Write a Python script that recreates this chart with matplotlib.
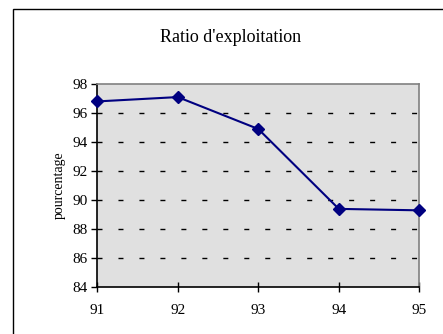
import matplotlib
matplotlib.use("Agg")
import matplotlib.pyplot as plt
from matplotlib.patches import Rectangle

years = ["91", "92", "93", "94", "95"]
ratio = [96.8, 97.1, 94.9, 89.4, 89.3]
y_ticks = [84, 86, 88, 90, 92, 94, 96, 98]

plt.rcParams["font.family"] = ["Liberation Serif", "DejaVu Serif"]

W, H = 443, 334
fig = plt.figure(figsize=(W / 100, H / 100), dpi=100)
fig.patch.set_facecolor("white")

# outer chart frame (open to the right and bottom)
fig.add_artist(Rectangle((12.5 / W, -0.1), 1.2, 1.1 - 9.5 / H,
                         transform=fig.transFigure, fill=False,
                         edgecolor="black", linewidth=1.0))

left, right, top, bottom = 97.3, 419.3, 84, 287.3
ax = fig.add_axes([left / W, 1 - bottom / H, (right - left) / W, (bottom - top) / H])
ax.set_facecolor("#e0e0e0")

x = list(range(len(years)))
ax.plot(x, ratio, color="#000080", linewidth=1.5, marker="D", markersize=6,
        markerfacecolor="#000080", markeredgecolor="#000080", clip_on=False, zorder=3)

ax.set_xlim(0, len(years) - 1)
ax.set_ylim(84, 98)
ax.set_xticks(x)
ax.set_xticklabels(years)
ax.set_yticks(y_ticks)
ax.set_yticklabels([str(v) for v in y_ticks])

for v in y_ticks[1:-1]:
    ax.axhline(v, color="black", linewidth=1.0, linestyle=(0, (3.6, 11.5)), zorder=1)

for s in ["top", "right"]:
    ax.spines[s].set_color("#808080")
    ax.spines[s].set_linewidth(1.2)
for s in ["left", "bottom"]:
    ax.spines[s].set_color("black")
    ax.spines[s].set_linewidth(1.2)

ax.tick_params(axis="y", direction="out", length=4, width=1, labelsize=11, pad=3, colors="black")
ax.tick_params(axis="x", direction="inout", length=6.5, width=1, labelsize=11, pad=9, colors="black")

ax.set_ylabel("pourcentage", fontsize=10, labelpad=5)

fig.text(231 / W, 1 - 38 / H, "Ratio d'exploitation", ha="center", va="center", fontsize=13)

fig.savefig("out.png", dpi=100)
